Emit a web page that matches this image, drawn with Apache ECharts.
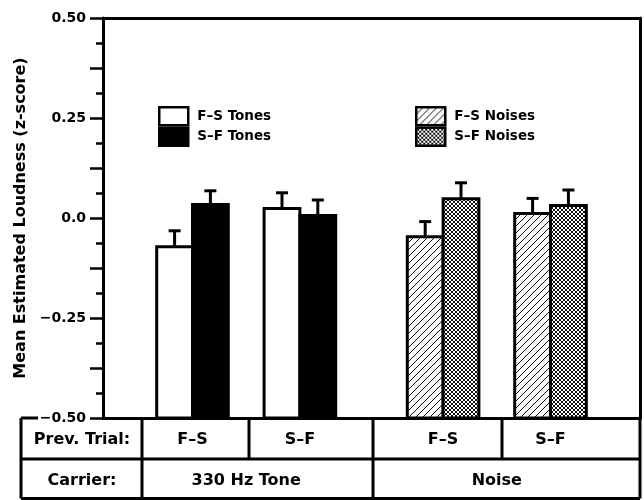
<!DOCTYPE html>
<html><head><meta charset="utf-8">
<script src="https://cdn.jsdelivr.net/npm/echarts@6/dist/echarts.min.js"></script>
<style>html,body{margin:0;padding:0;background:#fff}#c{width:644px;height:500px}</style>
</head><body><div id="c"></div>
<script>
// ---- data ----
const prevTrials = ['F–S', 'S–F'];
const carriers = ['330 Hz Tone', 'Noise'];
const seriesNames = ['F–S Tones', 'S–F Tones', 'F–S Noises', 'S–F Noises'];
const fsTones = [-0.072, 0.024];
const sfTones = [0.034, 0.006];
const fsNoises = [-0.047, 0.011];
const sfNoises = [0.048, 0.031];
const fsTonesErr = [0.040, 0.039];
const sfTonesErr = [0.034, 0.039];
const fsNoisesErr = [0.038, 0.038];
const sfNoisesErr = [0.040, 0.039];
const yTickValues = [-0.5, -0.25, 0, 0.25, 0.5];
const yTickLabels = ['−0.50', '−0.25', '0.0', '0.25', '0.50'];
const rowLabels = ['Prev. Trial:', 'Carrier:'];
const yName = 'Mean Estimated Loudness (z-score)';

// ---- layout (slot positions on a 16-slot category axis) ----
const slotCount = 16;
const slots = Array.from({length: slotCount}, (_, i) => 's' + i);
const slotPos = [[[2, 3], [5, 6]], [[9, 10], [12, 13]]]; // [carrier][prevTrial][pairIndex]
const FONT = '"DejaVu Sans", sans-serif';

function makePattern(kind) {
  const s = kind === 'hatch' ? 7 : 4;
  const c = document.createElement('canvas');
  c.width = c.height = s;
  const g = c.getContext('2d');
  g.fillStyle = '#fff'; g.fillRect(0, 0, s, s);
  g.strokeStyle = '#111'; g.lineWidth = 1;
  g.beginPath();
  g.moveTo(0, s); g.lineTo(s, 0);
  g.moveTo(-1, 1); g.lineTo(1, -1);
  g.moveTo(s - 1, s + 1); g.lineTo(s + 1, s - 1);
  if (kind === 'cross') {
    g.moveTo(0, 0); g.lineTo(s, s);
    g.moveTo(-1, s - 1); g.lineTo(1, s + 1);
    g.moveTo(s - 1, -1); g.lineTo(s + 1, 1);
  }
  g.stroke();
  return {image: c, repeat: 'repeat'};
}
const fills = ['#fff', '#000', makePattern('hatch'), makePattern('cross')];
const values = [fsTones, sfTones, fsNoises, sfNoises];
const errs = [fsTonesErr, sfTonesErr, fsNoisesErr, sfNoisesErr];

function renderBar(fill) {
  return function (params, api) {
    const x = api.value(0), v = api.value(1), e = api.value(2);
    const base = api.coord([x, -0.5]);
    const top = api.coord([x, v]);
    const errTop = api.coord([x, v + e]);
    const w = api.size([1, 0])[0];
    return {type: 'group', children: [
      {type: 'line', shape: {x1: top[0], y1: top[1], x2: top[0], y2: errTop[1]}, style: {stroke: '#000', lineWidth: 3}},
      {type: 'line', shape: {x1: top[0] - 6, y1: errTop[1], x2: top[0] + 6, y2: errTop[1]}, style: {stroke: '#000', lineWidth: 3}},
      {type: 'rect', shape: {x: base[0] - w / 2, y: top[1], width: w, height: base[1] - top[1]}, style: {fill: fill, stroke: '#000', lineWidth: 3}}
    ]};
  };
}

const series = seriesNames.map((name, si) => {
  const carrier = si < 2 ? 0 : 1;
  const within = si % 2;
  const data = prevTrials.map((p, pi) => [slotPos[carrier][pi][within], values[si][pi], errs[si][pi]]);
  return {
    type: 'custom', name: name, coordinateSystem: 'cartesian2d',
    itemStyle: {color: fills[si], borderColor: '#000'},
    renderItem: renderBar(fills[si]), data: data, silent: true
  };
});

const legendBase = {
  orient: 'vertical', itemGap: 0, itemWidth: 29, itemHeight: 18, icon: 'rect', padding: 0,
  selectedMode: false,
  textStyle: {fontFamily: FONT, fontWeight: 'bold', fontSize: 13.5, color: '#000', padding: [0, 0, 0, 4]}
};

const chart = echarts.init(document.getElementById('c'), null, {renderer: 'canvas'});
chart.setOption({
  animation: false,
  backgroundColor: '#fff',
  grid: {left: 103, right: 4, top: 18, bottom: 82, containLabel: false},
  legend: [
    Object.assign({}, legendBase, {left: 158, top: 106,
      data: seriesNames.slice(0, 2).map((n, i) => ({name: n, itemStyle: {color: fills[i], borderColor: '#000', borderWidth: 2.5}}))}),
    Object.assign({}, legendBase, {left: 415, top: 106,
      data: seriesNames.slice(2).map((n, i) => ({name: n, itemStyle: {color: fills[i + 2], borderColor: '#000', borderWidth: 2.5}}))})
  ],
  xAxis: [
    {type: 'category', data: slots, boundaryGap: false, position: 'bottom',
      axisLine: {onZero: false, lineStyle: {color: '#000', width: 3}}, axisTick: {show: false}, axisLabel: {show: false}, splitLine: {show: false}},
    {type: 'category', data: slots, boundaryGap: false, position: 'top',
      axisLine: {onZero: false, lineStyle: {color: '#000', width: 3}}, axisTick: {show: false}, axisLabel: {show: false}, splitLine: {show: false}}
  ],
  yAxis: [
    {type: 'value', min: -0.5, max: 0.5, interval: 0.125, position: 'left',
      axisLine: {show: true, onZero: false, lineStyle: {color: '#000', width: 3}},
      axisTick: {show: true, length: 13, lineStyle: {color: '#000', width: 2.5}},
      minorTick: {show: true, splitNumber: 2, length: 7, lineStyle: {color: '#000', width: 2.5}},
      splitLine: {show: false},
      axisLabel: {margin: 17, color: '#000', fontFamily: FONT, fontWeight: 'bold', fontSize: 14,
        formatter: v => { const i = yTickValues.findIndex(t => Math.abs(t - v) < 1e-9); return i >= 0 ? yTickLabels[i] : ''; }},
      name: yName, nameLocation: 'middle', nameGap: 50,
      nameTextStyle: {color: '#000', fontFamily: FONT, fontWeight: 'bold', fontSize: 16}},
    {type: 'value', min: -0.5, max: 0.5, position: 'right',
      axisLine: {show: true, onZero: false, lineStyle: {color: '#000', width: 3}},
      axisTick: {show: false}, axisLabel: {show: false}, splitLine: {show: false}}
  ],
  series: series
});

// ---- condition table under the plot ----
function px(slot) { return chart.convertToPixel({xAxisIndex: 0}, slots[slot]); }
const groupCenters = slotPos.map(c => c.map(pair => (px(pair[0]) + px(pair[1])) / 2));
const tL = 21, tR = 640, y0 = 418, y1 = 459, y2 = 498.5;
const lines = [
  [tL, y0, 38, y0], [tL, y1, tR, y1], [tL, y2, tR, y2],
  [tL, y0, tL, y2], [142, y0, 142, y2], [249, y0, 249, y1], [373, y0, 373, y2],
  [502, y0, 502, y1], [tR, y0, tR, y2]
];
const graphic = lines.map(l => ({type: 'line', shape: {x1: l[0], y1: l[1], x2: l[2], y2: l[3]}, style: {stroke: '#000', lineWidth: 3}, silent: true}));
function txt(t, x, y) {
  return {type: 'text', x: x, y: y, silent: true,
    style: {text: t, align: 'center', verticalAlign: 'middle', fill: '#000', font: 'bold 16px ' + FONT}};
}
graphic.push(txt(rowLabels[0], 82, 440));
graphic.push(txt(rowLabels[1], 82, 481));
carriers.forEach((c, ci) => {
  prevTrials.forEach((p, pi) => graphic.push(txt(p, groupCenters[ci][pi], 440)));
  graphic.push(txt(c, (groupCenters[ci][0] + groupCenters[ci][1]) / 2, 481));
});
chart.setOption({graphic: graphic});
</script>
</body></html>
